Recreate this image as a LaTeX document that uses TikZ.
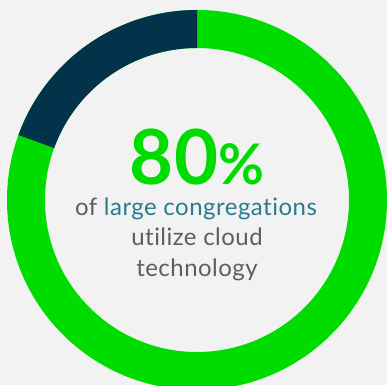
\documentclass[tikz,border=0pt]{standalone}
\usepackage{fontspec}
\setmainfont{Lato}[Ligatures=NoCommon]
\newfontfamily\bodyfont{Lato}[Ligatures=NoCommon,LetterSpace=2]
\definecolor{bg}{HTML}{F2F2F2}
\definecolor{ringgreen}{HTML}{00DC00}
\definecolor{ringdark}{HTML}{02334A}
\definecolor{txtgray}{HTML}{5E5E5E}
\definecolor{txtteal}{HTML}{2A7B8E}
\begin{document}
\begin{tikzpicture}[x=1pt,y=1pt,
  bodytext/.style={anchor=base,inner sep=0pt,text=txtgray,font=\bodyfont\fontsize{24}{24}\selectfont}]
\fill[bg] (0,0) rectangle (387,385);
\useasboundingbox (0,0) rectangle (387,385);
\coordinate (c) at (197,185);
\fill[ringgreen,even odd rule] (c) circle[radius=190] (c) circle[radius=152];
\fill[ringdark] ([shift={(90:190)}]c) arc[start angle=90,end angle=160,radius=190]
  -- ([shift={(160:152)}]c) arc[start angle=160,end angle=90,radius=152] -- cycle;
\node[anchor=base,inner sep=0pt,text=ringgreen,font=\fontsize{76}{76}\selectfont\bfseries] (pct) at (197,200) {80\fontsize{56}{56}\selectfont\%};
\node[bodytext] (l1) at (196,169) {of \textcolor{txtteal}{large congregations}};
\node[bodytext] (l2) at (197,139) {utilize cloud};
\node[bodytext] (l3) at (197,109) {technology};
\end{tikzpicture}
\end{document}
